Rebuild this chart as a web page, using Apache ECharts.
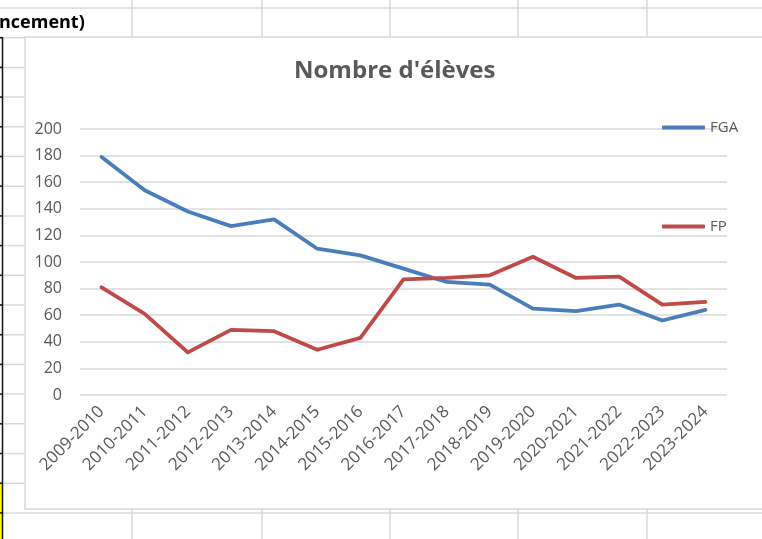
<!DOCTYPE html>
<html>
<head>
<meta charset="utf-8">
<script src="https://cdn.jsdelivr.net/npm/echarts@6/dist/echarts.min.js"></script>
<style>
  html, body { margin: 0; padding: 0; background: #fff; }
  #chart { width: 762px; height: 539px; }
</style>
</head>
<body>
<div id="chart"></div>
<script>
// school years
var years = ['2009-2010', '2010-2011', '2011-2012', '2012-2013', '2013-2014',
  '2014-2015', '2015-2016', '2016-2017', '2017-2018', '2018-2019',
  '2019-2020', '2020-2021', '2021-2022', '2022-2023', '2023-2024'];

// number of students
var fga = [179, 154, 138, 127, 132, 110, 105, 95, 85, 83, 65, 63, 68, 56, 64];
var fp = [81, 61, 32, 49, 48, 34, 43, 87, 88, 90, 104, 88, 89, 68, 70];

var yTicks = { min: 0, max: 200, step: 20 };

var grey = '#595959';
var sheetLine = '#dadada';
var font = 'Open Sans';

// spreadsheet decoration behind the chart (cells, borders)
var deco = [];
var rowY = [];
for (var r = 0; r < 18; r++) rowY.push(8 + r * 29.7);
rowY.forEach(function (y) {
  deco.push({ type: 'line', z: -20, shape: { x1: 0, y1: y, x2: 762, y2: y },
    style: { stroke: sheetLine, lineWidth: 1.5 } });
});
[132, 262, 390, 518, 647].forEach(function (x) {
  deco.push({ type: 'line', z: -20, shape: { x1: x, y1: 0, x2: x, y2: 539 },
    style: { stroke: sheetLine, lineWidth: 1.5 } });
});
// yellow cells at bottom left
deco.push({ type: 'rect', z: -19, shape: { x: 0, y: 484, width: 3, height: 55 },
  style: { fill: '#ffff00' } });
// black cell border on the left
deco.push({ type: 'line', z: -18, shape: { x1: 2.5, y1: 37, x2: 2.5, y2: 539 },
  style: { stroke: '#111', lineWidth: 1.5 } });
rowY.forEach(function (y) {
  if (y > 30) deco.push({ type: 'line', z: -18, shape: { x1: 0, y1: y, x2: 3, y2: y },
    style: { stroke: '#111', lineWidth: 1.5 } });
});
deco.push({ type: 'text', z: -18, left: -1, top: 14,
  style: { text: 'ncement)', font: 'bold 18px "Open Sans"', fill: '#000' } });
// chart area
deco.push({ type: 'rect', z: -10, shape: { x: 25, y: 37, width: 760, height: 472 },
  style: { fill: '#fff', stroke: '#d9d9d9', lineWidth: 1.5 } });

var chart = echarts.init(document.getElementById('chart'));
chart.setOption({
  animation: false,
  textStyle: { fontFamily: font },
  graphic: deco,
  title: {
    text: "Nombre d'élèves",
    left: 289, top: 54,
    textStyle: { color: grey, fontSize: 24, fontWeight: 'bold', fontFamily: font }
  },
  legend: [
    { data: ['FGA'], left: 662, top: 120, padding: 0, icon: 'roundRect', itemWidth: 43, itemHeight: 4,
      textStyle: { color: grey, fontSize: 15 } },
    { data: ['FP'], left: 662, top: 219, padding: 0, icon: 'roundRect', itemWidth: 43, itemHeight: 4,
      textStyle: { color: grey, fontSize: 15 } }
  ],
  grid: { left: 80, right: 35, top: 129, bottom: 144 },
  xAxis: {
    type: 'category',
    data: years,
    boundaryGap: true,
    axisLine: { show: false },
    axisTick: { show: false },
    axisLabel: { rotate: 45, color: grey, fontSize: 17, margin: 14, interval: 0 }
  },
  yAxis: {
    type: 'value',
    min: yTicks.min, max: yTicks.max, interval: yTicks.step,
    axisLine: { show: false },
    axisTick: { show: false },
    axisLabel: { color: grey, fontSize: 16, margin: 18 },
    splitLine: { lineStyle: { color: '#d9d9d9', width: 1.5 } }
  },
  series: [
    { name: 'FGA', type: 'line', data: fga, symbol: 'none',
      itemStyle: { color: '#4a7ebb' },
      lineStyle: { color: '#4a7ebb', width: 3.8, cap: 'round', join: 'round' } },
    { name: 'FP', type: 'line', data: fp, symbol: 'none',
      itemStyle: { color: '#be4b48' },
      lineStyle: { color: '#be4b48', width: 3.8, cap: 'round', join: 'round' } }
  ]
});
</script>
</body>
</html>
